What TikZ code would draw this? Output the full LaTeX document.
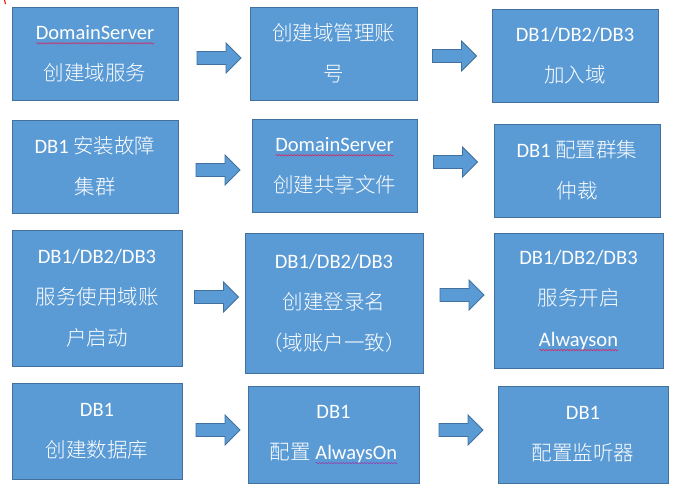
\documentclass[tikz,border=0pt]{standalone}
\usepackage{fontspec}
\setmainfont{Carlito}
\newfontfamily\zhfont{Noto Sans CJK SC Light}
\usetikzlibrary{decorations.pathmorphing}
\definecolor{boxblue}{RGB}{91,155,213}
\definecolor{boxedge}{RGB}{65,113,156}
\definecolor{squigred}{RGB}{215,35,95}
\definecolor{squigpurple}{RGB}{150,60,170}
\newsavebox\wavebox
\newcommand\wavy[2]{\sbox\wavebox{#2}\leavevmode\rlap{\tikz[baseline=0pt]\draw[#1, line width=0.5pt, decorate, decoration={snake, amplitude=0.7pt, segment length=3pt}] (0pt,-4pt) -- (\the\wd\wavebox,-4pt);}\usebox\wavebox}
\newcommand\zh[1]{{\zhfont #1}}
\tikzset{
  box/.style={draw=boxedge, line width=0.8pt, fill=boxblue, text=white, align=center,
    inner sep=0pt, outer sep=0pt, font=\fontsize{20.5}{41}\selectfont},
  arrowstyle/.style={draw=boxedge, line width=0.8pt, fill=boxblue, line join=miter},
  pics/barrow/.style={code={
    \draw[arrowstyle] (-22,-6.5) -- (7,-6.5) -- (7,-15) -- (22,0) -- (7,15) -- (7,6.5) -- (-22,6.5) -- cycle;}}
}
\begin{document}
\begin{tikzpicture}[x=1pt, y=-1pt]
\fill[white] (0,0) rectangle (676,499);
\useasboundingbox (0,0) rectangle (676,499);
\draw[red, line width=1pt] (4.5,0) -- (5.5,4);
% row 1
\node[box, minimum width=166, minimum height=93] (A) at (95,53.5) {\wavy{squigred}{DomainServer}\\\zh{创建域服务}};
\node[box, minimum width=167, minimum height=93] (B) at (333.5,53.5) {\zh{创建域管理账}\\\zh{号}};
\node[box, minimum width=166, minimum height=93] (C) at (575,55.5) {DB1/DB2/DB3\\\zh{加入域}};
% row 2
\node[box, minimum width=166, minimum height=93] (D) at (95,166.5) {DB1 \zh{安装故障}\\\zh{集群}};
\node[box, minimum width=165, minimum height=93] (E) at (334.5,165.5) {\wavy{squigred}{DomainServer}\\\zh{创建共享文件}};
\node[box, minimum width=166, minimum height=93] (F) at (577,170.5) {DB1 \zh{配置群集}\\\zh{仲裁}};
% row 3
\node[box, minimum width=170, minimum height=136] (G) at (97,298) {DB1/DB2/DB3\\\zh{服务使用域账}\\\zh{户启动}};
\node[box, minimum width=178, minimum height=140] (H) at (334,303) {DB1/DB2/DB3\\\zh{创建登录名}\\\zh{（域账户一致）}};
\node[box, minimum width=169, minimum height=135] (I) at (578.5,300.5) {DB1/DB2/DB3\\\zh{服务开启}\\\wavy{squigred}{Alwayson}};
% row 4
\node[box, minimum width=170, minimum height=96] (J) at (97,431) {DB1\\\zh{创建数据库}};
\node[box, minimum width=171, minimum height=97] (K) at (333.5,434.5) {DB1\\\zh{配置} \wavy{squigpurple}{AlwaysOn}};
\node[box, minimum width=170, minimum height=97] (L) at (583,434.5) {DB1\\\zh{配置监听器}};
% block arrows
\pic (a1) at (219,58) {barrow};
\pic (a2) at (454.5,56) {barrow};
\pic (a3) at (218,170) {barrow};
\pic (a4) at (455.5,162) {barrow};
\pic (a5) at (216.5,297) {barrow};
\pic (a6) at (462,295) {barrow};
\pic (a7) at (218,430) {barrow};
\pic (a8) at (461,430) {barrow};
\end{tikzpicture}
\end{document}
